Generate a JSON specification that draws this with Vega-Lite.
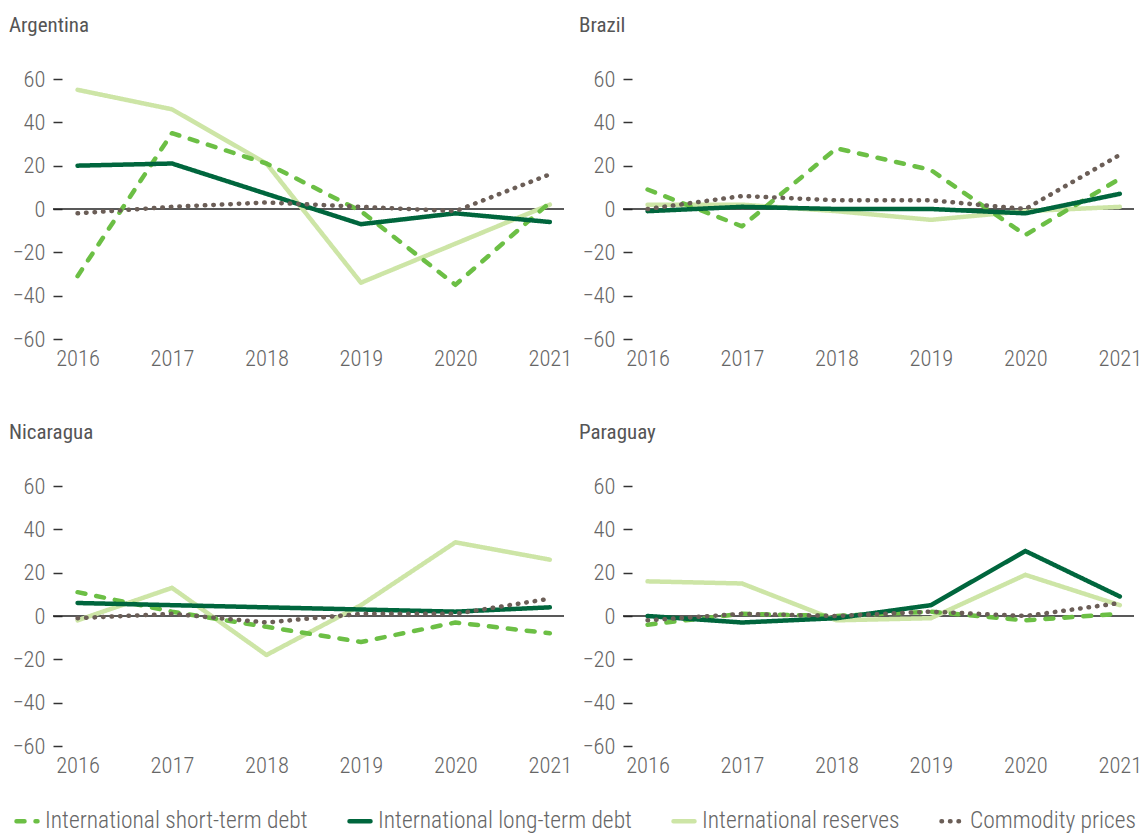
{
  "$schema": "https://vega.github.io/schema/vega-lite/v6.json",
  "padding": {"left": 9, "top": 15, "right": 2, "bottom": 2},
  "config": {
    "font": "Roboto Condensed, Liberation Sans Narrow, DejaVu Sans Condensed, sans-serif",
    "view": {"stroke": null},
    "concat": {"spacing": {"row": 52, "column": 7}},
    "title": {"fontSize": 21, "fontWeight": "normal", "color": "#555555", "anchor": "start", "frame": "group", "dx": -44, "offset": 32},
    "axis": {"grid": false, "domain": false, "title": null, "labelColor": "#666666", "labelFontSize": 22.5, "labelFontWeight": 300},
    "axisX": {"ticks": false, "labelPadding": 8},
    "axisY": {"tickSize": 9, "tickColor": "#333333", "tickWidth": 1.5, "offset": -9, "labelPadding": 8}
  },
  "data": {"values": [
    {"country":"Argentina","series":"International reserves","year":2016,"value":55},
    {"country":"Argentina","series":"International reserves","year":2017,"value":46},
    {"country":"Argentina","series":"International reserves","year":2018,"value":21},
    {"country":"Argentina","series":"International reserves","year":2019,"value":-34},
    {"country":"Argentina","series":"International reserves","year":2020,"value":-16},
    {"country":"Argentina","series":"International reserves","year":2021,"value":2},
    {"country":"Brazil","series":"International reserves","year":2016,"value":2},
    {"country":"Brazil","series":"International reserves","year":2017,"value":2},
    {"country":"Brazil","series":"International reserves","year":2018,"value":-1},
    {"country":"Brazil","series":"International reserves","year":2019,"value":-5},
    {"country":"Brazil","series":"International reserves","year":2020,"value":-1},
    {"country":"Brazil","series":"International reserves","year":2021,"value":1},
    {"country":"Nicaragua","series":"International reserves","year":2016,"value":-2},
    {"country":"Nicaragua","series":"International reserves","year":2017,"value":13},
    {"country":"Nicaragua","series":"International reserves","year":2018,"value":-18},
    {"country":"Nicaragua","series":"International reserves","year":2019,"value":5},
    {"country":"Nicaragua","series":"International reserves","year":2020,"value":34},
    {"country":"Nicaragua","series":"International reserves","year":2021,"value":26},
    {"country":"Paraguay","series":"International reserves","year":2016,"value":16},
    {"country":"Paraguay","series":"International reserves","year":2017,"value":15},
    {"country":"Paraguay","series":"International reserves","year":2018,"value":-2},
    {"country":"Paraguay","series":"International reserves","year":2019,"value":-1},
    {"country":"Paraguay","series":"International reserves","year":2020,"value":19},
    {"country":"Paraguay","series":"International reserves","year":2021,"value":5},

    {"country":"Argentina","series":"International short-term debt","year":2016,"value":-31},
    {"country":"Argentina","series":"International short-term debt","year":2017,"value":35},
    {"country":"Argentina","series":"International short-term debt","year":2018,"value":21},
    {"country":"Argentina","series":"International short-term debt","year":2019,"value":-1},
    {"country":"Argentina","series":"International short-term debt","year":2020,"value":-35},
    {"country":"Argentina","series":"International short-term debt","year":2021,"value":3},
    {"country":"Brazil","series":"International short-term debt","year":2016,"value":9},
    {"country":"Brazil","series":"International short-term debt","year":2017,"value":-8},
    {"country":"Brazil","series":"International short-term debt","year":2018,"value":28},
    {"country":"Brazil","series":"International short-term debt","year":2019,"value":18},
    {"country":"Brazil","series":"International short-term debt","year":2020,"value":-12},
    {"country":"Brazil","series":"International short-term debt","year":2021,"value":14},
    {"country":"Nicaragua","series":"International short-term debt","year":2016,"value":11},
    {"country":"Nicaragua","series":"International short-term debt","year":2017,"value":2},
    {"country":"Nicaragua","series":"International short-term debt","year":2018,"value":-5},
    {"country":"Nicaragua","series":"International short-term debt","year":2019,"value":-12},
    {"country":"Nicaragua","series":"International short-term debt","year":2020,"value":-3},
    {"country":"Nicaragua","series":"International short-term debt","year":2021,"value":-8},
    {"country":"Paraguay","series":"International short-term debt","year":2016,"value":-4},
    {"country":"Paraguay","series":"International short-term debt","year":2017,"value":1},
    {"country":"Paraguay","series":"International short-term debt","year":2018,"value":0},
    {"country":"Paraguay","series":"International short-term debt","year":2019,"value":2},
    {"country":"Paraguay","series":"International short-term debt","year":2020,"value":-2},
    {"country":"Paraguay","series":"International short-term debt","year":2021,"value":1},

    {"country":"Argentina","series":"International long-term debt","year":2016,"value":20},
    {"country":"Argentina","series":"International long-term debt","year":2017,"value":21},
    {"country":"Argentina","series":"International long-term debt","year":2018,"value":7},
    {"country":"Argentina","series":"International long-term debt","year":2019,"value":-7},
    {"country":"Argentina","series":"International long-term debt","year":2020,"value":-2},
    {"country":"Argentina","series":"International long-term debt","year":2021,"value":-6},
    {"country":"Brazil","series":"International long-term debt","year":2016,"value":-1},
    {"country":"Brazil","series":"International long-term debt","year":2017,"value":1},
    {"country":"Brazil","series":"International long-term debt","year":2018,"value":0},
    {"country":"Brazil","series":"International long-term debt","year":2019,"value":0},
    {"country":"Brazil","series":"International long-term debt","year":2020,"value":-2},
    {"country":"Brazil","series":"International long-term debt","year":2021,"value":7},
    {"country":"Nicaragua","series":"International long-term debt","year":2016,"value":6},
    {"country":"Nicaragua","series":"International long-term debt","year":2017,"value":5},
    {"country":"Nicaragua","series":"International long-term debt","year":2018,"value":4},
    {"country":"Nicaragua","series":"International long-term debt","year":2019,"value":3},
    {"country":"Nicaragua","series":"International long-term debt","year":2020,"value":2},
    {"country":"Nicaragua","series":"International long-term debt","year":2021,"value":4},
    {"country":"Paraguay","series":"International long-term debt","year":2016,"value":0},
    {"country":"Paraguay","series":"International long-term debt","year":2017,"value":-3},
    {"country":"Paraguay","series":"International long-term debt","year":2018,"value":-1},
    {"country":"Paraguay","series":"International long-term debt","year":2019,"value":5},
    {"country":"Paraguay","series":"International long-term debt","year":2020,"value":30},
    {"country":"Paraguay","series":"International long-term debt","year":2021,"value":9},

    {"country":"Argentina","series":"Commodity prices","year":2016,"value":-2},
    {"country":"Argentina","series":"Commodity prices","year":2017,"value":1},
    {"country":"Argentina","series":"Commodity prices","year":2018,"value":3},
    {"country":"Argentina","series":"Commodity prices","year":2019,"value":1},
    {"country":"Argentina","series":"Commodity prices","year":2020,"value":-1},
    {"country":"Argentina","series":"Commodity prices","year":2021,"value":16},
    {"country":"Brazil","series":"Commodity prices","year":2016,"value":0},
    {"country":"Brazil","series":"Commodity prices","year":2017,"value":6},
    {"country":"Brazil","series":"Commodity prices","year":2018,"value":4},
    {"country":"Brazil","series":"Commodity prices","year":2019,"value":4},
    {"country":"Brazil","series":"Commodity prices","year":2020,"value":0},
    {"country":"Brazil","series":"Commodity prices","year":2021,"value":25},
    {"country":"Nicaragua","series":"Commodity prices","year":2016,"value":-1},
    {"country":"Nicaragua","series":"Commodity prices","year":2017,"value":1},
    {"country":"Nicaragua","series":"Commodity prices","year":2018,"value":-3},
    {"country":"Nicaragua","series":"Commodity prices","year":2019,"value":1},
    {"country":"Nicaragua","series":"Commodity prices","year":2020,"value":1},
    {"country":"Nicaragua","series":"Commodity prices","year":2021,"value":8},
    {"country":"Paraguay","series":"Commodity prices","year":2016,"value":-2},
    {"country":"Paraguay","series":"Commodity prices","year":2017,"value":1},
    {"country":"Paraguay","series":"Commodity prices","year":2018,"value":0},
    {"country":"Paraguay","series":"Commodity prices","year":2019,"value":2},
    {"country":"Paraguay","series":"Commodity prices","year":2020,"value":0},
    {"country":"Paraguay","series":"Commodity prices","year":2021,"value":6}
  ]},
  "columns": 2,
  "concat": [
    {
      "title": "Argentina",
      "width": 511, "height": 260,
      "layer": [
        {"data": {"values": [{}]}, "mark": {"type": "rule", "color": "#222222", "strokeWidth": 1.3}, "encoding": {"y": {"datum": 0, "type": "quantitative"}}},
        {"transform": [{"filter": "datum.country === 'Argentina'"}],
         "mark": {"type": "line", "strokeWidth": 4.5, "strokeCap": "round", "strokeJoin": "round"},
         "encoding": {
           "x": {"field": "year", "type": "quantitative", "scale": {"domain": [2015.74, 2021.15], "nice": false, "zero": false}, "axis": {"values": [2016, 2017, 2018, 2019, 2020, 2021], "format": "d"}},
           "y": {"field": "value", "type": "quantitative", "scale": {"domain": [-60, 60], "nice": false}, "axis": {"values": [-60, -40, -20, 0, 20, 40, 60]}},
           "color": {"field": "series", "type": "nominal", "title": null},
           "strokeDash": {"field": "series", "type": "nominal", "title": null}
         }}
      ]
    },
    {
      "title": "Brazil",
      "width": 511, "height": 260,
      "layer": [
        {"data": {"values": [{}]}, "mark": {"type": "rule", "color": "#222222", "strokeWidth": 1.3}, "encoding": {"y": {"datum": 0, "type": "quantitative"}}},
        {"transform": [{"filter": "datum.country === 'Brazil'"}],
         "mark": {"type": "line", "strokeWidth": 4.5, "strokeCap": "round", "strokeJoin": "round"},
         "encoding": {
           "x": {"field": "year", "type": "quantitative", "scale": {"domain": [2015.74, 2021.15], "nice": false, "zero": false}, "axis": {"values": [2016, 2017, 2018, 2019, 2020, 2021], "format": "d"}},
           "y": {"field": "value", "type": "quantitative", "scale": {"domain": [-60, 60], "nice": false}, "axis": {"values": [-60, -40, -20, 0, 20, 40, 60]}},
           "color": {"field": "series", "type": "nominal", "title": null},
           "strokeDash": {"field": "series", "type": "nominal", "title": null}
         }}
      ]
    },
    {
      "title": "Nicaragua",
      "width": 511, "height": 260,
      "layer": [
        {"data": {"values": [{}]}, "mark": {"type": "rule", "color": "#222222", "strokeWidth": 1.3}, "encoding": {"y": {"datum": 0, "type": "quantitative"}}},
        {"transform": [{"filter": "datum.country === 'Nicaragua'"}],
         "mark": {"type": "line", "strokeWidth": 4.5, "strokeCap": "round", "strokeJoin": "round"},
         "encoding": {
           "x": {"field": "year", "type": "quantitative", "scale": {"domain": [2015.74, 2021.15], "nice": false, "zero": false}, "axis": {"values": [2016, 2017, 2018, 2019, 2020, 2021], "format": "d"}},
           "y": {"field": "value", "type": "quantitative", "scale": {"domain": [-60, 60], "nice": false}, "axis": {"values": [-60, -40, -20, 0, 20, 40, 60]}},
           "color": {"field": "series", "type": "nominal", "title": null},
           "strokeDash": {"field": "series", "type": "nominal", "title": null}
         }}
      ]
    },
    {
      "title": "Paraguay",
      "width": 511, "height": 260,
      "layer": [
        {"data": {"values": [{}]}, "mark": {"type": "rule", "color": "#222222", "strokeWidth": 1.3}, "encoding": {"y": {"datum": 0, "type": "quantitative"}}},
        {"transform": [{"filter": "datum.country === 'Paraguay'"}],
         "mark": {"type": "line", "strokeWidth": 4.5, "strokeCap": "round", "strokeJoin": "round"},
         "encoding": {
           "x": {"field": "year", "type": "quantitative", "scale": {"domain": [2015.74, 2021.15], "nice": false, "zero": false}, "axis": {"values": [2016, 2017, 2018, 2019, 2020, 2021], "format": "d"}},
           "y": {"field": "value", "type": "quantitative", "scale": {"domain": [-60, 60], "nice": false}, "axis": {"values": [-60, -40, -20, 0, 20, 40, 60]}},
           "color": {"field": "series", "type": "nominal", "title": null,
             "scale": {"domain": ["International short-term debt", "International long-term debt", "International reserves", "Commodity prices"], "range": ["#6cbf45", "#00663d", "#cde5a6", "#6b5e57"]},
             "legend": {"orient": "none", "legendX": -39, "legendY": 729, "direction": "horizontal", "symbolType": "stroke", "symbolSize": 441, "symbolStrokeWidth": 4.5, "labelFontSize": 23.5, "labelFontWeight": 300, "labelColor": "#666666", "labelOffset": 5, "columnPadding": 32, "labelLimit": 400,
               "encode": {"symbols": {"update": {"strokeCap": {"value": "round"}}}}}},
           "strokeDash": {"field": "series", "type": "nominal", "title": null,
             "scale": {"domain": ["International short-term debt", "International long-term debt", "International reserves", "Commodity prices"], "range": [[8, 11], [1, 0], [1, 0], [0.5, 8]]}}
         }}
      ]
    }
  ]
}
